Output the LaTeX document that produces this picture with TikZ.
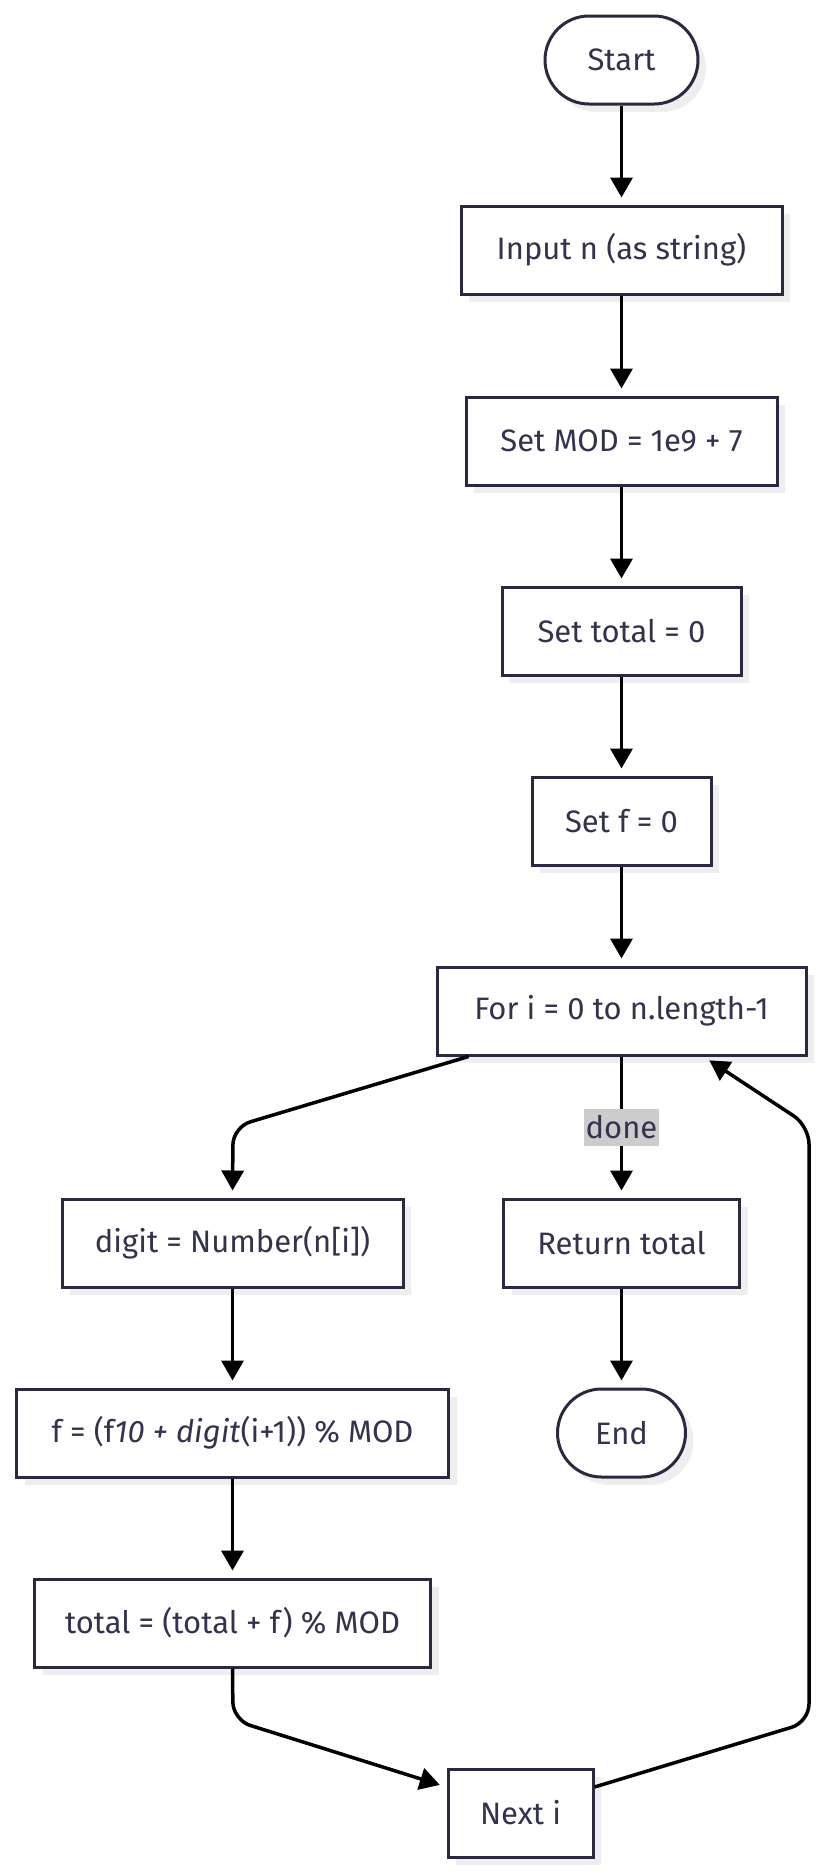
\documentclass[tikz,border=0pt]{standalone}
\usepackage{fontspec}
\setmainfont{Fira Sans}
\usepackage{tikz}
\usetikzlibrary{arrows.meta, positioning, calc, shadows}
\definecolor{boxline}{HTML}{2A2940}
\definecolor{boxtext}{HTML}{33334D}
\definecolor{shade}{HTML}{EEEEEE}
\definecolor{lblbg}{HTML}{CCCCCC}

\begin{document}
\begin{tikzpicture}[
    x=1pt, y=-1pt,
    font=\fontsize{31}{36}\selectfont,
    stepbox/.style={rectangle, draw=boxline, line width=3pt, fill=white, text=boxtext,
        minimum height=88pt, inner sep=0pt, align=center,
        drop shadow={shadow xshift=8pt, shadow yshift=-8pt, fill=shade, opacity=1}},
    term/.style={stepbox, rounded corners=44pt},
    arrow/.style={-{Triangle[length=20pt,width=22pt]}, line width=3.5pt, black,
        shorten >=7pt, rounded corners=18pt},
    lbl/.style={sharp corners, fill=lblbg, text=boxtext, inner sep=2pt, minimum height=37pt, minimum width=67pt}
]
    \useasboundingbox (0,0) rectangle (826,1874);

    \node[term, minimum width=153pt] (start) at (621.5,60) {Start};
    \node[stepbox, minimum width=321pt] (input) at (621.5,250) {Input n (as string)};
    \node[stepbox, minimum width=311pt] (mod) at (621.5,441) {Set MOD = 1e9 + 7};
    \node[stepbox, minimum width=239pt] (tot0) at (621.5,631) {Set total = 0};
    \node[stepbox, minimum width=179pt] (f0) at (621.5,821) {Set f = 0};
    \node[stepbox, minimum width=369pt] (loop) at (621.5,1011) {For i = 0 to n.length-1};
    \node[stepbox, minimum width=341pt] (digit) at (232.5,1243) {digit = Number(n[i])};
    \node[stepbox, minimum width=236pt] (ret) at (621.5,1243) {Return total};
    \node[stepbox, minimum width=432pt] (fupd) at (232.5,1433) {f = (f\textit{10 + digit}(i+1)) \% MOD};
    \node[term, minimum width=128pt] (end) at (621.5,1433) {End};
    \node[stepbox, minimum width=396pt] (tupd) at (232.5,1623) {total = (total + f) \% MOD};
    \node[stepbox, minimum width=145pt] (next) at (520.5,1813) {Next i};

    % bends
    \coordinate (c1) at (233,1127);
    \coordinate (c2) at (233,1720);
    \coordinate (c3) at (809,1722);
    \coordinate (c4) at (809,1126);

    \draw[arrow] (start) -- (input);
    \draw[arrow] (input) -- (mod);
    \draw[arrow] (mod) -- (tot0);
    \draw[arrow] (tot0) -- (f0);
    \draw[arrow] (f0) -- (loop);
    \draw[arrow] ([xshift=-153pt]loop.south) -- (c1) -- (digit.north);
    \draw[arrow] (loop) -- node[lbl] (done) {done} (ret);
    \draw[arrow] (digit) -- (fupd);
    \draw[arrow] (fupd) -- (tupd);
    \draw[arrow] (ret) -- (end);
    \draw[arrow] (tupd.south) -- (c2) -- ([yshift=26pt]next.west);
    \draw[arrow] ([yshift=26pt]next.east) -- (c3) -- (c4) -- ([xshift=82pt]loop.south);
\end{tikzpicture}
\end{document}
